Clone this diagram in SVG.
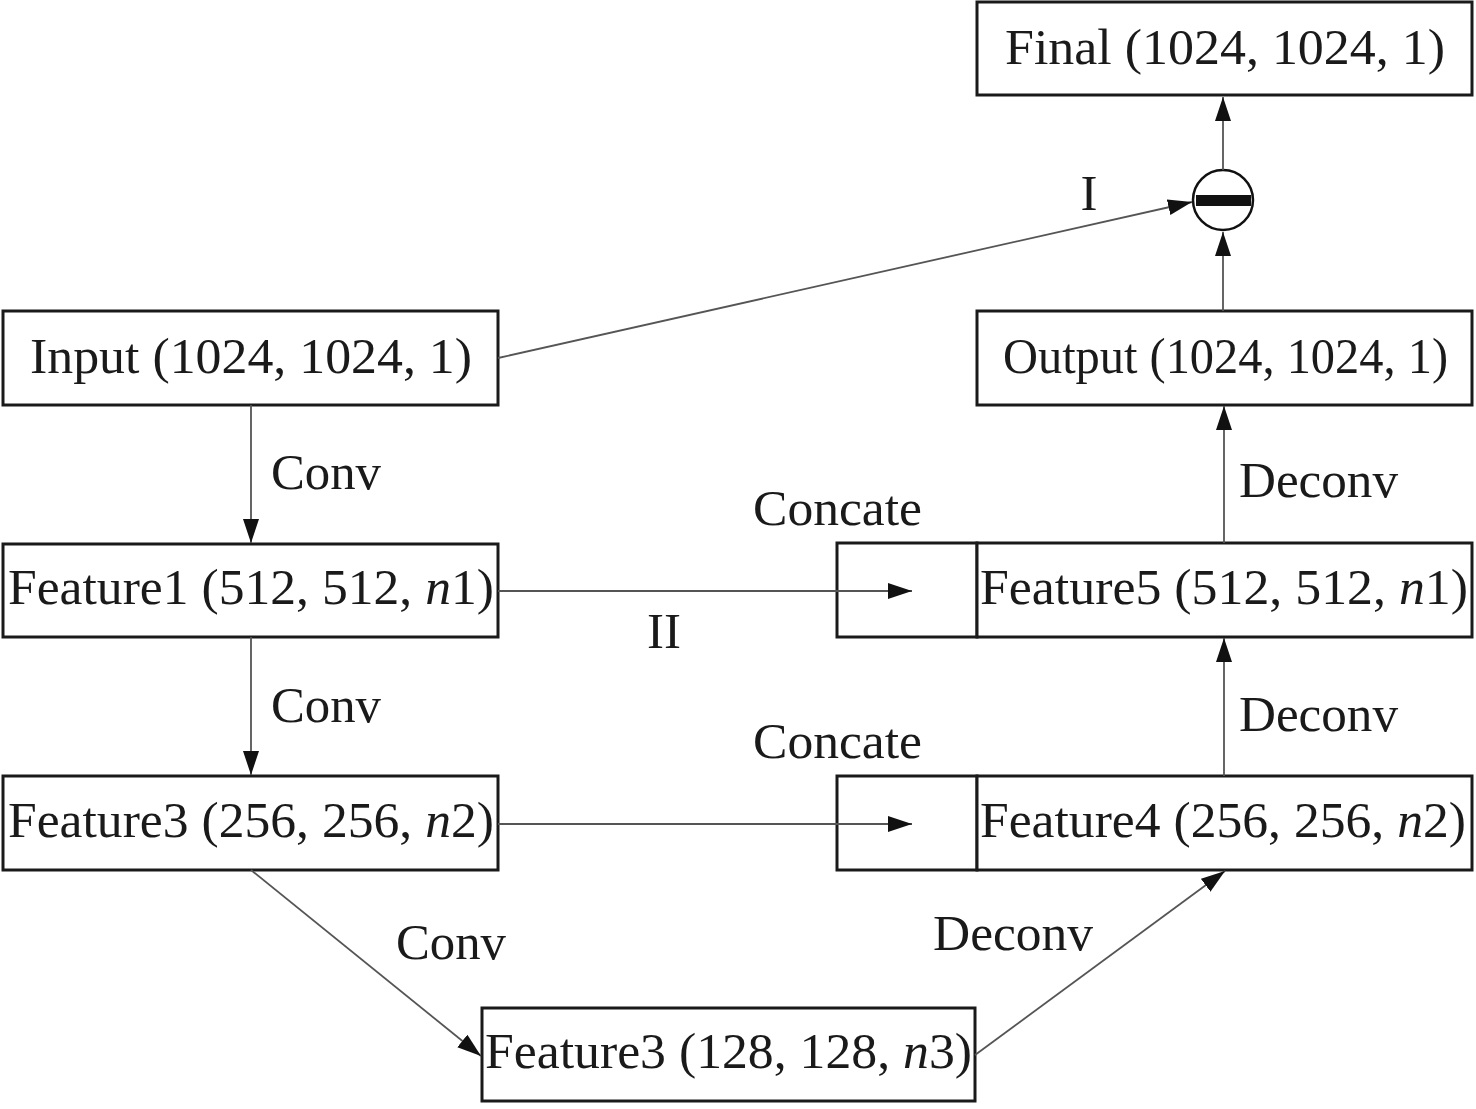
<svg xmlns="http://www.w3.org/2000/svg" width="1476" height="1109" viewBox="0 0 1476 1109">
<style>
.box{fill:#fff;stroke:#1a1a1a;stroke-width:3}
.t{font-family:"Liberation Serif","Times New Roman",serif;font-size:51px;fill:#1a1a1a}
.lbl{font-family:"Liberation Serif","Times New Roman",serif;font-size:51px;fill:#1a1a1a}
.edge{stroke:#555;stroke-width:1.8;fill:none}
</style>
<defs>
<marker id="ah" markerUnits="userSpaceOnUse" markerWidth="26" markerHeight="18" refX="24" refY="8" orient="auto">
<path d="M0,0 L24,8 L0,16 z" fill="#111"/>
</marker>
</defs>
<rect width="1476" height="1109" fill="#fff"/>
<g id="final">
<rect class="box" x="977" y="2" width="495" height="93"/>
<text class="t" x="1005" y="64" textLength="440" lengthAdjust="spacingAndGlyphs">Final (1024, 1024, 1)</text>
</g>
<g id="minus">
<circle cx="1223" cy="200" r="30" fill="#fff" stroke="#111" stroke-width="2.5"/>
<rect x="1196" y="195" width="55" height="11" fill="#111"/>
</g>
<g id="input">
<rect class="box" x="3" y="311" width="495" height="94"/>
<text class="t" x="30" y="373" textLength="442" lengthAdjust="spacingAndGlyphs">Input (1024, 1024, 1)</text>
</g>
<g id="output">
<rect class="box" x="977" y="311" width="495" height="94"/>
<text class="t" x="1003" y="373" textLength="445" lengthAdjust="spacingAndGlyphs">Output (1024, 1024, 1)</text>
</g>
<g id="feature1">
<rect class="box" x="3" y="544" width="495" height="93"/>
<text class="t" x="8" y="604" textLength="486" lengthAdjust="spacingAndGlyphs">Feature1 (512, 512, <tspan font-style="italic">n</tspan>1)</text>
</g>
<g id="concat1">
<rect class="box" x="837" y="543" width="140" height="94"/>
</g>
<g id="feature5">
<rect class="box" x="977" y="543" width="495" height="94"/>
<text class="t" x="980" y="604" textLength="488" lengthAdjust="spacingAndGlyphs">Feature5 (512, 512, <tspan font-style="italic">n</tspan>1)</text>
</g>
<g id="feature3">
<rect class="box" x="3" y="776" width="495" height="94"/>
<text class="t" x="8" y="837" textLength="486" lengthAdjust="spacingAndGlyphs">Feature3 (256, 256, <tspan font-style="italic">n</tspan>2)</text>
</g>
<g id="concat2">
<rect class="box" x="837" y="776" width="140" height="94"/>
</g>
<g id="feature4">
<rect class="box" x="977" y="776" width="495" height="94"/>
<text class="t" x="980" y="837" textLength="486" lengthAdjust="spacingAndGlyphs">Feature4 (256, 256, <tspan font-style="italic">n</tspan>2)</text>
</g>
<g id="feature3b">
<rect class="box" x="482" y="1008" width="493" height="93"/>
<text class="t" x="485" y="1068" textLength="487" lengthAdjust="spacingAndGlyphs">Feature3 (128, 128, <tspan font-style="italic">n</tspan>3)</text>
</g>
<g id="connectors">
<line class="edge" x1="1223" y1="170" x2="1223" y2="97" marker-end="url(#ah)"/>
<line class="edge" x1="1223" y1="311" x2="1223" y2="232" marker-end="url(#ah)"/>
<line class="edge" x1="498" y1="358" x2="1192" y2="202" marker-end="url(#ah)"/>
<line class="edge" x1="251" y1="405" x2="251" y2="543" marker-end="url(#ah)"/>
<line class="edge" x1="251" y1="637" x2="251" y2="775" marker-end="url(#ah)"/>
<line class="edge" x1="251" y1="870" x2="481" y2="1056" marker-end="url(#ah)"/>
<line class="edge" x1="975" y1="1055" x2="1225" y2="871" marker-end="url(#ah)"/>
<line class="edge" x1="1224" y1="776" x2="1224" y2="638" marker-end="url(#ah)"/>
<line class="edge" x1="1224" y1="543" x2="1224" y2="406" marker-end="url(#ah)"/>
<line class="edge" x1="498" y1="591" x2="912" y2="591" marker-end="url(#ah)"/>
<line class="edge" x1="498" y1="824" x2="912" y2="824" marker-end="url(#ah)"/>
</g>
<g id="labels">
<text class="lbl" x="1089" y="210" font-size="56" text-anchor="middle">I</text>
<text class="lbl" x="664" y="648" font-size="56" text-anchor="middle">II</text>
<text class="lbl" x="271" y="489" textLength="110" lengthAdjust="spacingAndGlyphs">Conv</text>
<text class="lbl" x="271" y="722" textLength="110" lengthAdjust="spacingAndGlyphs">Conv</text>
<text class="lbl" x="396" y="959" textLength="110" lengthAdjust="spacingAndGlyphs">Conv</text>
<text class="lbl" x="753" y="525" textLength="169" lengthAdjust="spacingAndGlyphs">Concate</text>
<text class="lbl" x="753" y="758" textLength="169" lengthAdjust="spacingAndGlyphs">Concate</text>
<text class="lbl" x="1239" y="497" textLength="159" lengthAdjust="spacingAndGlyphs">Deconv</text>
<text class="lbl" x="1239" y="731" textLength="159" lengthAdjust="spacingAndGlyphs">Deconv</text>
<text class="lbl" x="933" y="950" textLength="160" lengthAdjust="spacingAndGlyphs">Deconv</text>
</g>
</svg>
